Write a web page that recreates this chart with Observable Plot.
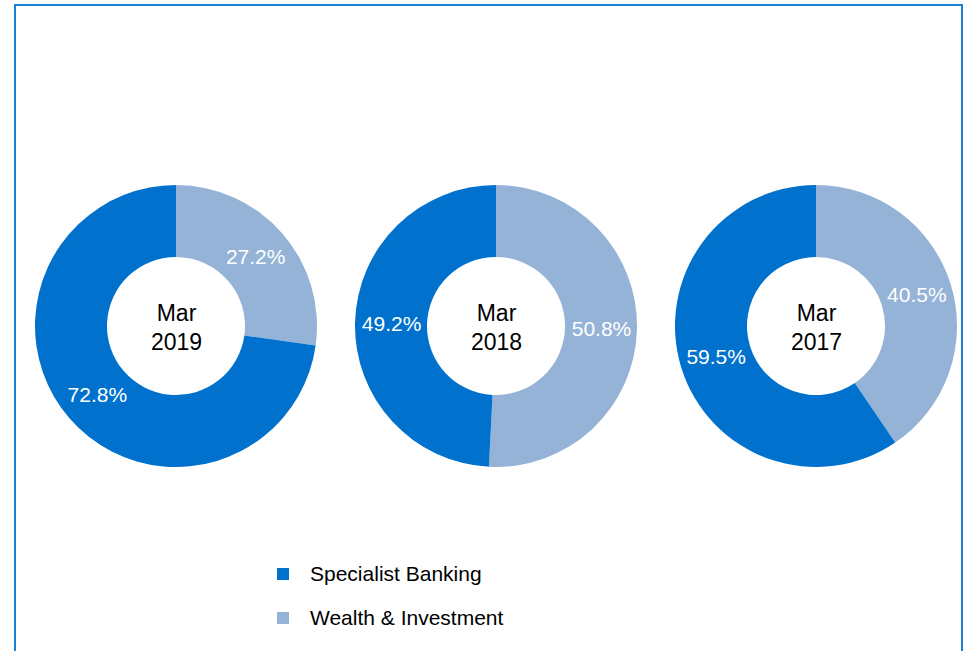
<!DOCTYPE html>
<html><head><meta charset="utf-8">
<script src="https://cdn.jsdelivr.net/npm/d3@7"></script>
<script src="https://cdn.jsdelivr.net/npm/@observablehq/plot@0.6"></script>
<style>
body{margin:0;background:#fff;font-family:"Liberation Sans",Arial,sans-serif;}
#page{position:relative;width:970px;height:651px;overflow:hidden;background:#fff;}
#frame{position:absolute;left:14px;top:4px;width:949px;height:720px;border:2px solid #1b7fd3;box-sizing:border-box;}
#chart{position:absolute;left:0;top:0;}
.leg{position:absolute;left:277px;font-size:21px;color:#000;line-height:24px;}
.leg span.sw{position:absolute;left:0;top:6px;width:12px;height:12px;}
.leg span.lb{position:absolute;left:33px;top:0;white-space:nowrap;}
</style></head>
<body>
<div id="page">
<div id="frame"></div>
<div id="chart"></div>
<div id="legend"></div>
</div>
<script>
const years = ["Mar 2019", "Mar 2018", "Mar 2017"];
const segments = ["Wealth & Investment", "Specialist Banking"];
const wealth = [27.2, 50.8, 40.5];
const specialist = [72.8, 49.2, 59.5];
const segColors = ["#95b3d7", "#0072ce"];
const legendOrder = ["Specialist Banking", "Wealth & Investment"];

const outerR = 141, innerR = 69;
const pie = d3.pie().sort(null).value(d => d.value);
const arc = d3.arc().innerRadius(innerR).outerRadius(outerR);

const slices = [];
years.forEach((y, i) => {
  const vals = [wealth[i], specialist[i]];
  const arcs = pie(segments.map((s, j) => ({year: y, segment: s, value: vals[j], color: segColors[j]})));
  arcs.forEach(a => slices.push({...a.data, arc: a, centroid: arc.centroid(a)}));
});

function donuts(index, scales, values, dimensions) {
  const cy = (dimensions.marginTop + dimensions.height - dimensions.marginBottom) / 2;
  const g = d3.create("svg:g");
  for (const s of slices) {
    const cx = scales.x(s.year);
    g.append("path")
      .attr("transform", `translate(${cx},${cy})`)
      .attr("d", arc(s.arc))
      .attr("fill", s.color);
  }
  return g.node();
}

const centerLabels = years.map(y => ({year: y, label: y.replace(" ", "\n")}));

const labelMarks = slices.map(s => Plot.text([s], {
  x: "year",
  text: d => d.value.toFixed(1) + "%",
  dx: s.centroid[0],
  dy: s.centroid[1],
  fill: "white",
  fontSize: 21
}));

const chart = Plot.plot({
  width: 970,
  height: 540,
  marginTop: 112,
  marginBottom: 0,
  marginLeft: 0,
  marginRight: 0,
  x: {type: "point", domain: years, range: [176, 816], padding: 0, axis: null},
  style: {fontFamily: "'Liberation Sans', Arial, sans-serif", background: "transparent"},
  marks: [
    donuts,
    Plot.text(centerLabels, {x: "year", text: "label", fontSize: 23, lineHeight: 1.27, fill: "black"}),
    ...labelMarks
  ]
});
document.getElementById("chart").appendChild(chart);

const leg = document.getElementById("legend");
legendOrder.forEach((name, i) => {
  const row = document.createElement("div");
  row.className = "leg";
  row.style.top = (562 + i * 44) + "px";
  const sw = document.createElement("span");
  sw.className = "sw";
  sw.style.background = segColors[segments.indexOf(name)];
  const lb = document.createElement("span");
  lb.className = "lb";
  lb.textContent = name;
  row.appendChild(sw); row.appendChild(lb);
  leg.appendChild(row);
});
</script>
</body></html>
